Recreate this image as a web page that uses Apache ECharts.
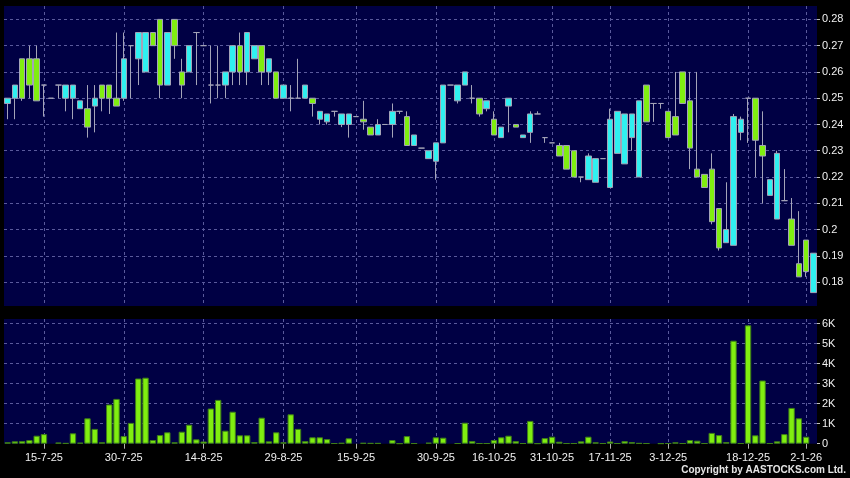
<!DOCTYPE html>
<html><head><meta charset="utf-8">
<script src="https://cdn.jsdelivr.net/npm/echarts@6/dist/echarts.min.js"></script>
<style>html,body{margin:0;padding:0;background:#000;}#c{width:850px;height:478px;}</style>
</head><body><div id="c"></div>
<script>
const categories = [
'8-7-25','9-7-25','10-7-25','11-7-25','14-7-25','15-7-25','16-7-25','17-7-25','18-7-25','21-7-25',
'22-7-25','23-7-25','24-7-25','25-7-25','28-7-25','29-7-25','30-7-25','31-7-25','1-8-25','4-8-25',
'5-8-25','6-8-25','7-8-25','8-8-25','11-8-25','12-8-25','13-8-25','14-8-25','15-8-25','18-8-25',
'19-8-25','20-8-25','21-8-25','22-8-25','25-8-25','26-8-25','27-8-25','28-8-25','29-8-25','1-9-25',
'2-9-25','3-9-25','4-9-25','5-9-25','9-9-25','10-9-25','11-9-25','12-9-25','15-9-25','16-9-25',
'17-9-25','18-9-25','19-9-25','22-9-25','23-9-25','24-9-25','25-9-25','26-9-25','29-9-25','30-9-25',
'2-10-25','3-10-25','6-10-25','8-10-25','10-10-25','13-10-25','14-10-25','16-10-25','17-10-25','20-10-25',
'21-10-25','22-10-25','24-10-25','27-10-25','30-10-25','31-10-25','3-11-25','4-11-25','6-11-25','7-11-25',
'10-11-25','12-11-25','14-11-25','17-11-25','18-11-25','20-11-25','21-11-25','24-11-25','26-11-25','27-11-25',
'1-12-25','3-12-25','4-12-25','5-12-25','8-12-25','9-12-25','10-12-25','11-12-25','12-12-25','15-12-25',
'16-12-25','17-12-25','18-12-25','19-12-25','22-12-25','23-12-25','24-12-25','29-12-25','30-12-25','31-12-25',
'2-1-26','5-1-26'];

const tickLabels = ['15-7-25','30-7-25','14-8-25','29-8-25','15-9-25','30-9-25','16-10-25','31-10-25','17-11-25','3-12-25','18-12-25','2-1-26'];

const open = [
0.248,0.25,0.265,0.265,0.265,0.255,0.25,0.255,0.25,0.25,
0.246,0.246,0.247,0.255,0.255,0.25,0.25,0.27,0.265,0.26,
0.275,0.28,0.255,0.28,0.26,0.26,0.275,0.27,0.255,0.255,
0.255,0.26,0.27,0.26,0.265,0.27,0.26,0.26,0.25,0.25,
0.25,0.25,0.25,0.242,0.241,0.245,0.24,0.24,0.243,0.242,
0.239,0.236,0.24,0.24,0.245,0.243,0.232,0.231,0.227,0.226,
0.233,0.255,0.249,0.255,0.25,0.25,0.246,0.242,0.235,0.247,
0.24,0.235,0.237,0.244,0.235,0.233,0.232,0.232,0.23,0.22,
0.219,0.218,0.227,0.216,0.229,0.225,0.235,0.22,0.255,0.248,
0.248,0.245,0.243,0.26,0.249,0.223,0.221,0.223,0.208,0.195,
0.194,0.237,0.25,0.25,0.232,0.213,0.204,0.211,0.204,0.187,
0.196,0.176];

const close = [
0.25,0.255,0.25,0.255,0.249,0.255,0.25,0.255,0.255,0.255,
0.249,0.239,0.25,0.25,0.25,0.247,0.265,0.27,0.275,0.275,
0.27,0.255,0.275,0.27,0.255,0.27,0.275,0.27,0.255,0.255,
0.26,0.27,0.26,0.275,0.27,0.26,0.265,0.25,0.255,0.25,
0.25,0.255,0.248,0.245,0.244,0.245,0.244,0.244,0.243,0.241,
0.236,0.24,0.24,0.245,0.245,0.232,0.236,0.231,0.23,0.233,
0.255,0.255,0.255,0.26,0.25,0.244,0.249,0.236,0.239,0.25,
0.239,0.236,0.244,0.244,0.235,0.233,0.228,0.223,0.22,0.22,
0.228,0.227,0.227,0.242,0.245,0.244,0.244,0.249,0.241,0.248,
0.248,0.235,0.236,0.248,0.231,0.22,0.216,0.203,0.193,0.2,
0.243,0.242,0.25,0.234,0.228,0.219,0.229,0.211,0.194,0.182,
0.184,0.191];

const low = [
0.242,0.242,0.249,0.25,0.249,0.243,0.25,0.25,0.245,0.242,
0.246,0.235,0.237,0.245,0.244,0.247,0.249,0.25,0.255,0.26,
0.27,0.25,0.255,0.265,0.25,0.26,0.255,0.27,0.248,0.25,
0.25,0.255,0.255,0.255,0.265,0.255,0.255,0.25,0.25,0.245,
0.25,0.25,0.243,0.24,0.24,0.243,0.239,0.235,0.243,0.238,
0.236,0.236,0.24,0.235,0.244,0.232,0.232,0.231,0.227,0.219,
0.233,0.255,0.248,0.255,0.248,0.243,0.245,0.236,0.235,0.237,
0.239,0.235,0.233,0.244,0.233,0.233,0.228,0.223,0.22,0.218,
0.219,0.218,0.227,0.216,0.229,0.225,0.23,0.22,0.241,0.241,
0.246,0.235,0.236,0.248,0.223,0.22,0.216,0.202,0.192,0.195,
0.194,0.234,0.233,0.22,0.21,0.213,0.204,0.211,0.194,0.182,
0.182,0.176];

const high = [
0.25,0.255,0.265,0.27,0.27,0.255,0.25,0.255,0.255,0.255,
0.249,0.255,0.255,0.255,0.255,0.275,0.275,0.27,0.275,0.275,
0.275,0.28,0.275,0.28,0.265,0.27,0.275,0.27,0.27,0.27,
0.26,0.27,0.275,0.275,0.27,0.27,0.265,0.26,0.255,0.255,
0.265,0.255,0.25,0.245,0.244,0.245,0.244,0.244,0.243,0.249,
0.239,0.242,0.24,0.248,0.245,0.245,0.236,0.231,0.23,0.233,
0.255,0.255,0.255,0.26,0.255,0.25,0.249,0.245,0.239,0.25,
0.24,0.236,0.245,0.245,0.235,0.233,0.233,0.232,0.23,0.22,
0.229,0.227,0.227,0.246,0.245,0.244,0.244,0.249,0.255,0.248,
0.248,0.245,0.26,0.26,0.26,0.26,0.221,0.229,0.208,0.218,
0.244,0.243,0.25,0.25,0.245,0.219,0.23,0.223,0.212,0.207,
0.196,0.191];

const volume = [
70,120,130,180,400,480,0,60,30,520,
50,1270,740,70,1960,2240,380,1040,3260,3300,
180,430,570,70,600,950,220,110,1760,2190,
650,1600,420,420,80,1300,120,570,70,1470,
740,130,320,320,230,20,40,270,0,40,
30,30,0,180,10,380,20,0,50,320,
300,0,20,1050,130,20,20,180,320,400,
130,20,1140,10,280,350,100,20,20,120,
350,70,20,110,20,130,80,30,20,0,
10,20,70,20,180,150,20,540,430,80,
5150,20,5920,420,3160,20,120,480,1790,1270,
350,0];

const FONT = '"Liberation Sans", Arial, sans-serif';
const labelSet = new Set(tickLabels);
const showLabel = (i, v) => labelSet.has(categories[i]);
const gridLine = { show: true, showMinLine: false, showMaxLine: false, lineStyle: { color: '#5a5a9c', type: [3, 3], width: 1 } };
const vGridLine = { show: true, interval: showLabel, alignWithLabel: true, lineStyle: { color: '#5a5a9c', type: [3, 3], width: 1 } };

const chart = echarts.init(document.getElementById('c'), null, { renderer: 'canvas' });
chart.setOption({
  backgroundColor: '#000000',
  animation: false,
  grid: [
    { left: 4, right: 33, top: 6, height: 300, show: true, backgroundColor: '#000044', borderWidth: 0, outerBoundsMode: 'none' },
    { left: 4, right: 33, top: 319, height: 124.7, show: true, backgroundColor: '#000044', borderWidth: 0, outerBoundsMode: 'none' }
  ],
  xAxis: [
    { type: 'category', gridIndex: 0, data: categories, boundaryGap: true,
      axisLine: { show: false }, axisTick: { show: false }, axisLabel: { show: false },
      splitLine: vGridLine },
    { type: 'category', gridIndex: 1, data: categories, boundaryGap: true,
      axisLine: { show: false },
      axisTick: { show: true, interval: showLabel, alignWithLabel: true, length: 5, lineStyle: { color: '#b0b0b0' } },
      axisLabel: { interval: showLabel, color: '#f0f0f0', fontSize: 11, fontFamily: FONT, margin: 9 },
      splitLine: vGridLine }
  ],
  yAxis: [
    { type: 'value', gridIndex: 0, position: 'right', min: 0.1709, max: 0.2851, splitNumber: 11, scale: true,
      axisLine: { show: false },
      axisTick: { show: true, length: 3, lineStyle: { color: '#c0c0c0' } },
      axisLabel: { color: '#f0f0f0', fontSize: 11, fontFamily: FONT, margin: 5, showMinLabel: false, showMaxLabel: false },
      splitLine: gridLine },
    { type: 'value', gridIndex: 1, position: 'right', min: 0, max: 6235, interval: 1000,
      axisLine: { show: false },
      axisTick: { show: true, length: 3, lineStyle: { color: '#c0c0c0' } },
      axisLabel: { color: '#f0f0f0', fontSize: 11, fontFamily: FONT, margin: 5, showMaxLabel: false,
        formatter: v => v === 0 ? '0' : (v / 1000) + 'K' },
      splitLine: gridLine }
  ],
  series: [
    { type: 'candlestick', xAxisIndex: 0, yAxisIndex: 0, barWidth: '82%',
      data: categories.map((_, i) => [open[i], close[i], low[i], high[i]]),
      itemStyle: { color: '#30f0f0', color0: '#80ee10', borderColor: '#a4a4b8', borderColor0: '#a4a4b8', borderColorDoji: '#a4a4b8', borderWidth: 1 } },
    { type: 'bar', xAxisIndex: 1, yAxisIndex: 1, barWidth: '88%',
      data: volume.map(v => v === 0 ? null : v),
      itemStyle: { color: '#80ee10', borderColor: '#3e7e18', borderWidth: 1 } }
  ],
  graphic: [
    { type: 'text', right: 4, bottom: 3, style: { text: 'Copyright by AASTOCKS.com Ltd.', fill: '#e6e6e6', font: 'bold 10px ' + FONT } }
  ]
});
</script></body></html>
